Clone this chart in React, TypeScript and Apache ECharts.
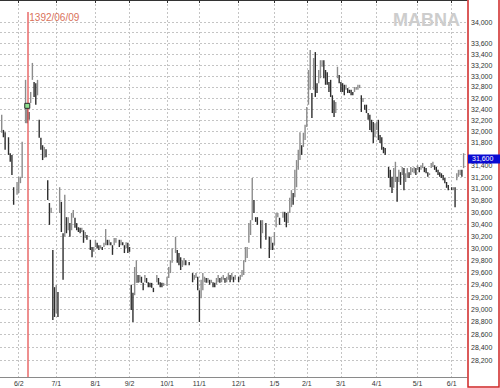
import React, { useEffect, useRef } from 'react';
import * as echarts from 'echarts';

// ---- data ----
const X = null;
// [low, high] per trading-day slot; null = no trade
const dailyRanges: ([number, number] | null)[] = [
  X, [31980, 32300], [31900, 32030], [31680, 31990], X, [31590, 31900], [31470, 31620], [31240, 31590], [30730, 31030], X,
  [30900, 31120], [30930, 31210], [31100, 31210], [31190, 31820], X, [32150, 32930], [32150, 32420], [32210, 32350], [32510, 32710], [32930, 33240],
  [32620, 32890], [32480, 32870], [32650, 32930], [31890, 32210], [31680, 31890], [31500, 31760], [31540, 31730], [31550, 31690], [30810, 31150], [30390, 30760],
  [30590, 30680], [28830, 29970], [28880, 29360], [28940, 29400], [28880, 29280], [30590, 31030], [30270, 30780], [29480, 30250], [30190, 30900], [30250, 30520],
  [30300, 30520], [30190, 30420], [30300, 30590], [30510, 30640], [30340, 30510], [30300, 30420], [30270, 30350], [30250, 30340], [30270, 30340], [30090, 30300],
  [30170, 30270], [30140, 30220], X, [29970, 30140], [29850, 30020], [29940, 30020], [30020, 30140], [30000, 30090], [29970, 30050], [30000, 30050],
  [29970, 30020], [30020, 30090], [30050, 30320], [30050, 30140], [30050, 30140], [30050, 30100], [29890, 30050], [30050, 30170], [30090, 30170], X,
  [30020, 30140], [30050, 30140], [30050, 30100], [29920, 30050], [30000, 30100], [29920, 30090], [29940, 30020], [28990, 29400], [28800, 29270], [29230, 29690],
  [29430, 29800], [29430, 29560], [29440, 29560], [29430, 29530], [29310, 29430], [29440, 29560], [29430, 29510], [29360, 29440], [29360, 29430], [29350, 29430],
  [29280, 29350], X, [29440, 29560], [29400, 29510], [29360, 29440], [29360, 29430], [29380, 29430], X, [29380, 29530], [29510, 29690],
  [29590, 29800], [29760, 30000], X, [29920, 30190], [29760, 29970], [29720, 29920], [29640, 29850], [29690, 29800], [29720, 29840], [29720, 29800],
  X, [29720, 29770], X, [29440, 29590], [29480, 29560], [29510, 29590], [29310, 29530], [28800, 29310], [29180, 29480], [29310, 29590],
  [29440, 29530], [29430, 29510], [29430, 29510], [29400, 29480], [29430, 29480], [29360, 29440], [29360, 29430], [29400, 29510], [29440, 29560], [29430, 29510],
  [29440, 29530], [29480, 29560], [29430, 29510], [29440, 29530], [29480, 29590], [29440, 29560], [29480, 29590], [29440, 29530], [29480, 29560], X,
  [29440, 29530], [29480, 29560], [29530, 29640], [29560, 29800], [29770, 30020], [29840, 30020], [30090, 30420], [30220, 30470], [30470, 31190], [30590, 30810],
  [30440, 30520], [30390, 30520], X, [30000, 30470], [30250, 30470], X, [30140, 30420], X, [29840, 30190], [29970, 30190],
  [29970, 30090], [30050, 30270], [30350, 30590], [30520, 30590], [30390, 30510], X, [30510, 30610], [30440, 30610], [30350, 30590], [30420, 30610],
  [30590, 30850], [30690, 30980], [30730, 30930], [30860, 31330], [31030, 31500], [31330, 31680], [31500, 31990], [31590, 31760], [31730, 31980], [31850, 32120],
  [32080, 32440], [32480, 33110], [32750, 33480], [32240, 32690], [32750, 33330], [32620, 33440], [32690, 32870], [32870, 33110], [32960, 33290], [33170, 33290],
  [32960, 33290], [32840, 33110], [32840, 33070], [32710, 32890], [32620, 32930], [32330, 32650], [32260, 32560], [32330, 32530], [32960, 33170], [32870, 33020],
  [32710, 32890], [32710, 32870], [32650, 32840], [32750, 32840], [32690, 32780], [32690, 32750], [32650, 32750], [32650, 32710], [32710, 32800], [32750, 32800],
  [32750, 32840], [32780, 32840], [32350, 32650], [32530, 32600], [32390, 32480], [32330, 32480], [32210, 32330], [32030, 32300], [31990, 32210], [31800, 32170],
  [31900, 32150], [32030, 32170], [31850, 32210], [31800, 31940], [31680, 31900], [31620, 31730], [31590, 31710], X, [31190, 31380], [31030, 31330],
  [30930, 31210], [31020, 31360], [31120, 31470], [30780, 31210], [31120, 31330], [31070, 31290], [31240, 31380], [30980, 31360], [31120, 31270], [31190, 31360],
  [31190, 31290], [31240, 31380], [31290, 31360], [31270, 31380], [31240, 31360], [31330, 31410], [31290, 31380], [31330, 31410], [31360, 31450], [31290, 31380],
  [31270, 31360], [31210, 31290], [31240, 31270], [31360, 31450], [31380, 31470], [31330, 31410], [31290, 31380], [31240, 31330], [31210, 31290], [31190, 31270],
  [31150, 31240], [31100, 31190], [31020, 31120], [30980, 31070], X, [30980, 31030], [30980, 31030], [30690, 31030], [31150, 31270], [31210, 31330],
  [31240, 31330], [31210, 31330], [31360, 31620], X, X,
];

const xLabels = ['6/2', '7/1', '8/1', '9/2', '10/1', '11/1', '12/1', '1/5', '2/1', '3/1', '4/1', '5/1', '6/1'];
const xLabelDays = [11, 33, 56, 76, 98, 117, 140, 161, 180, 200, 221, 245, 265];

const yTickPrices = [
  28200, 28400, 28600, 28800, 29000, 29200, 29400, 29600, 29800, 30000,
  30200, 30400, 30600, 30800, 31000, 31200, 31400, 31600, 31800, 32000,
  32200, 32400, 32600, 32800, 33000, 33200, 33400, 33600, 33800, 34000,
];
const lastPrice = 31600;
// 33,800 is not labelled in the reference; 31,600 sits under the last-price box
const yLabelPrices = yTickPrices.filter((p) => p !== 33800 && p !== lastPrice);

const axisMinPrice = 27936;
const axisMaxPrice = 34418;
const markerDate = '1392/06/09';
const markerDay = 16;
const markerPrice = 32460;
const markerLineTop = 34190;

const FONT = '"Liberation Sans", Arial, sans-serif';

export default function App() {
  const ref = useRef<HTMLDivElement>(null);

  useEffect(() => {
    document.body.style.margin = '0';
    if (!ref.current) return;
    const chart = echarts.init(ref.current, undefined, { renderer: 'svg' });

    const N = dailyRanges.length;
    const categories = Array.from({ length: N }, (_, i) => {
      const k = xLabelDays.indexOf(i);
      return k >= 0 ? xLabels[k] : '';
    });
    const isTick = (i: number) => xLabelDays.indexOf(i) >= 0;

    const items: number[][] = [];
    let prevMid: number | null = null;
    dailyRanges.forEach((r, i) => {
      if (!r) return;
      const mid = (r[0] + r[1]) / 2;
      const down = prevMid !== null && mid < prevMid ? 1 : 0;
      prevMid = mid;
      items.push([i, Math.log(r[0]), Math.log(r[1]), down]);
    });

    const fmt = (v: number) => (Math.round(Math.exp(v) / 100) * 100).toLocaleString('en-US');

    chart.setOption({
      animation: false,
      backgroundColor: '#ffffff',
      grid: { left: 0, right: 33, top: 0, bottom: 11, containLabel: false, outerBoundsMode: 'none' },
      xAxis: [
        {
          type: 'category',
          data: categories,
          boundaryGap: false,
          position: 'bottom',
          axisLine: { show: true, lineStyle: { color: '#8a8a8a', width: 1 } },
          axisTick: { show: false },
          axisLabel: {
            interval: (i: number) => isTick(i),
            fontSize: 7,
            lineHeight: 7,
            fontFamily: FONT,
            color: '#333',
            margin: 3,
          },
          splitLine: {
            show: true,
            interval: (i: number) => isTick(i),
            lineStyle: { color: '#c4c4c4', type: [2, 2], width: 1 },
          },
        },
        {
          type: 'category',
          data: categories,
          boundaryGap: false,
          position: 'top',
          axisLine: { show: true, lineStyle: { color: '#333', width: 1 } },
          axisTick: {
            show: true,
            inside: true,
            length: 3,
            interval: (i: number) => isTick(i),
            lineStyle: { color: '#333' },
          },
          axisLabel: { show: false },
          splitLine: { show: false },
        },
      ],
      yAxis: {
        type: 'value',
        position: 'right',
        min: Math.log(axisMinPrice),
        max: Math.log(axisMaxPrice),
        axisLine: { show: false },
        axisTick: { show: false, customValues: yTickPrices.map((p) => Math.log(p)) },
        axisLabel: {
          customValues: yLabelPrices.map((p) => Math.log(p)),
          formatter: (v: number) => fmt(v),
          fontSize: 7,
          lineHeight: 7,
          fontFamily: FONT,
          color: '#333',
          margin: 4,
          align: 'left',
        },
        splitLine: { show: true, lineStyle: { color: '#c4c4c4', type: [2, 2], width: 1 } },
      },
      series: [
        {
          type: 'custom',
          xAxisIndex: 0,
          yAxisIndex: 0,
          data: items,
          encode: { x: 0, y: [1, 2] },
          renderItem: (params: any, api: any) => {
            const i = api.value(0);
            const lo = api.coord([i, api.value(1)]);
            const hi = api.coord([i, api.value(2)]);
            return {
              type: 'line',
              shape: { x1: lo[0], y1: lo[1], x2: hi[0], y2: hi[1] },
              style: { stroke: api.value(3) ? '#2e2e2e' : '#8c8c8c', lineWidth: 1.4 },
            };
          },
          markLine: {
            silent: true,
            symbol: ['none', 'none'],
            label: { show: false },
            lineStyle: { color: '#e86a6a', width: 1.5, type: 'solid' },
            data: [
              [
                { coord: [markerDay, Math.log(markerLineTop)] },
                { coord: [markerDay, Math.log(axisMinPrice)] },
              ],
            ],
          },
          markPoint: {
            silent: true,
            data: [
              {
                coord: [markerDay, Math.log(markerLineTop)],
                symbol: 'circle',
                symbolSize: 0,
                label: {
                  show: true,
                  position: 'right',
                  distance: 2,
                  offset: [0, 5],
                  formatter: markerDate,
                  color: '#d9705a',
                  fontSize: 10,
                  fontFamily: FONT,
                },
              },
              {
                coord: [markerDay, Math.log(markerPrice)],
                symbol: 'rect',
                symbolSize: 5,
                itemStyle: { color: '#8fe08f', borderColor: '#2a2a2a', borderWidth: 1 },
                label: { show: false },
              },
            ],
          },
        },
      ],
      graphic: [
        {
          type: 'text',
          x: 460,
          y: 20,
          z: 1,
          style: {
            text: 'MABNA',
            font: `bold 18px ${FONT}`,
            fill: '#cdcdcd',
            align: 'right',
            verticalAlign: 'middle',
          },
        },
        {
          type: 'rect',
          z: 50,
          shape: { x: 468, y: -1, width: 31, height: 388 },
          style: { fill: 'none', stroke: '#d02424', lineWidth: 1.5 },
        },
        {
          type: 'rect',
          z: 60,
          shape: { x: 468, y: 154.5, width: 32, height: 9 },
          style: { fill: '#0a0ad2' },
        },
        {
          type: 'text',
          z: 61,
          x: 472,
          y: 158.5,
          style: {
            text: lastPrice.toLocaleString('en-US'),
            fontSize: 7,
            lineHeight: 7,
            fontFamily: FONT,
            fill: '#ffffff',
            verticalAlign: 'middle',
          },
        },
      ],
    });

    return () => chart.dispose();
  }, []);

  return <div ref={ref} style={{ width: 500, height: 388 }} />;
}
